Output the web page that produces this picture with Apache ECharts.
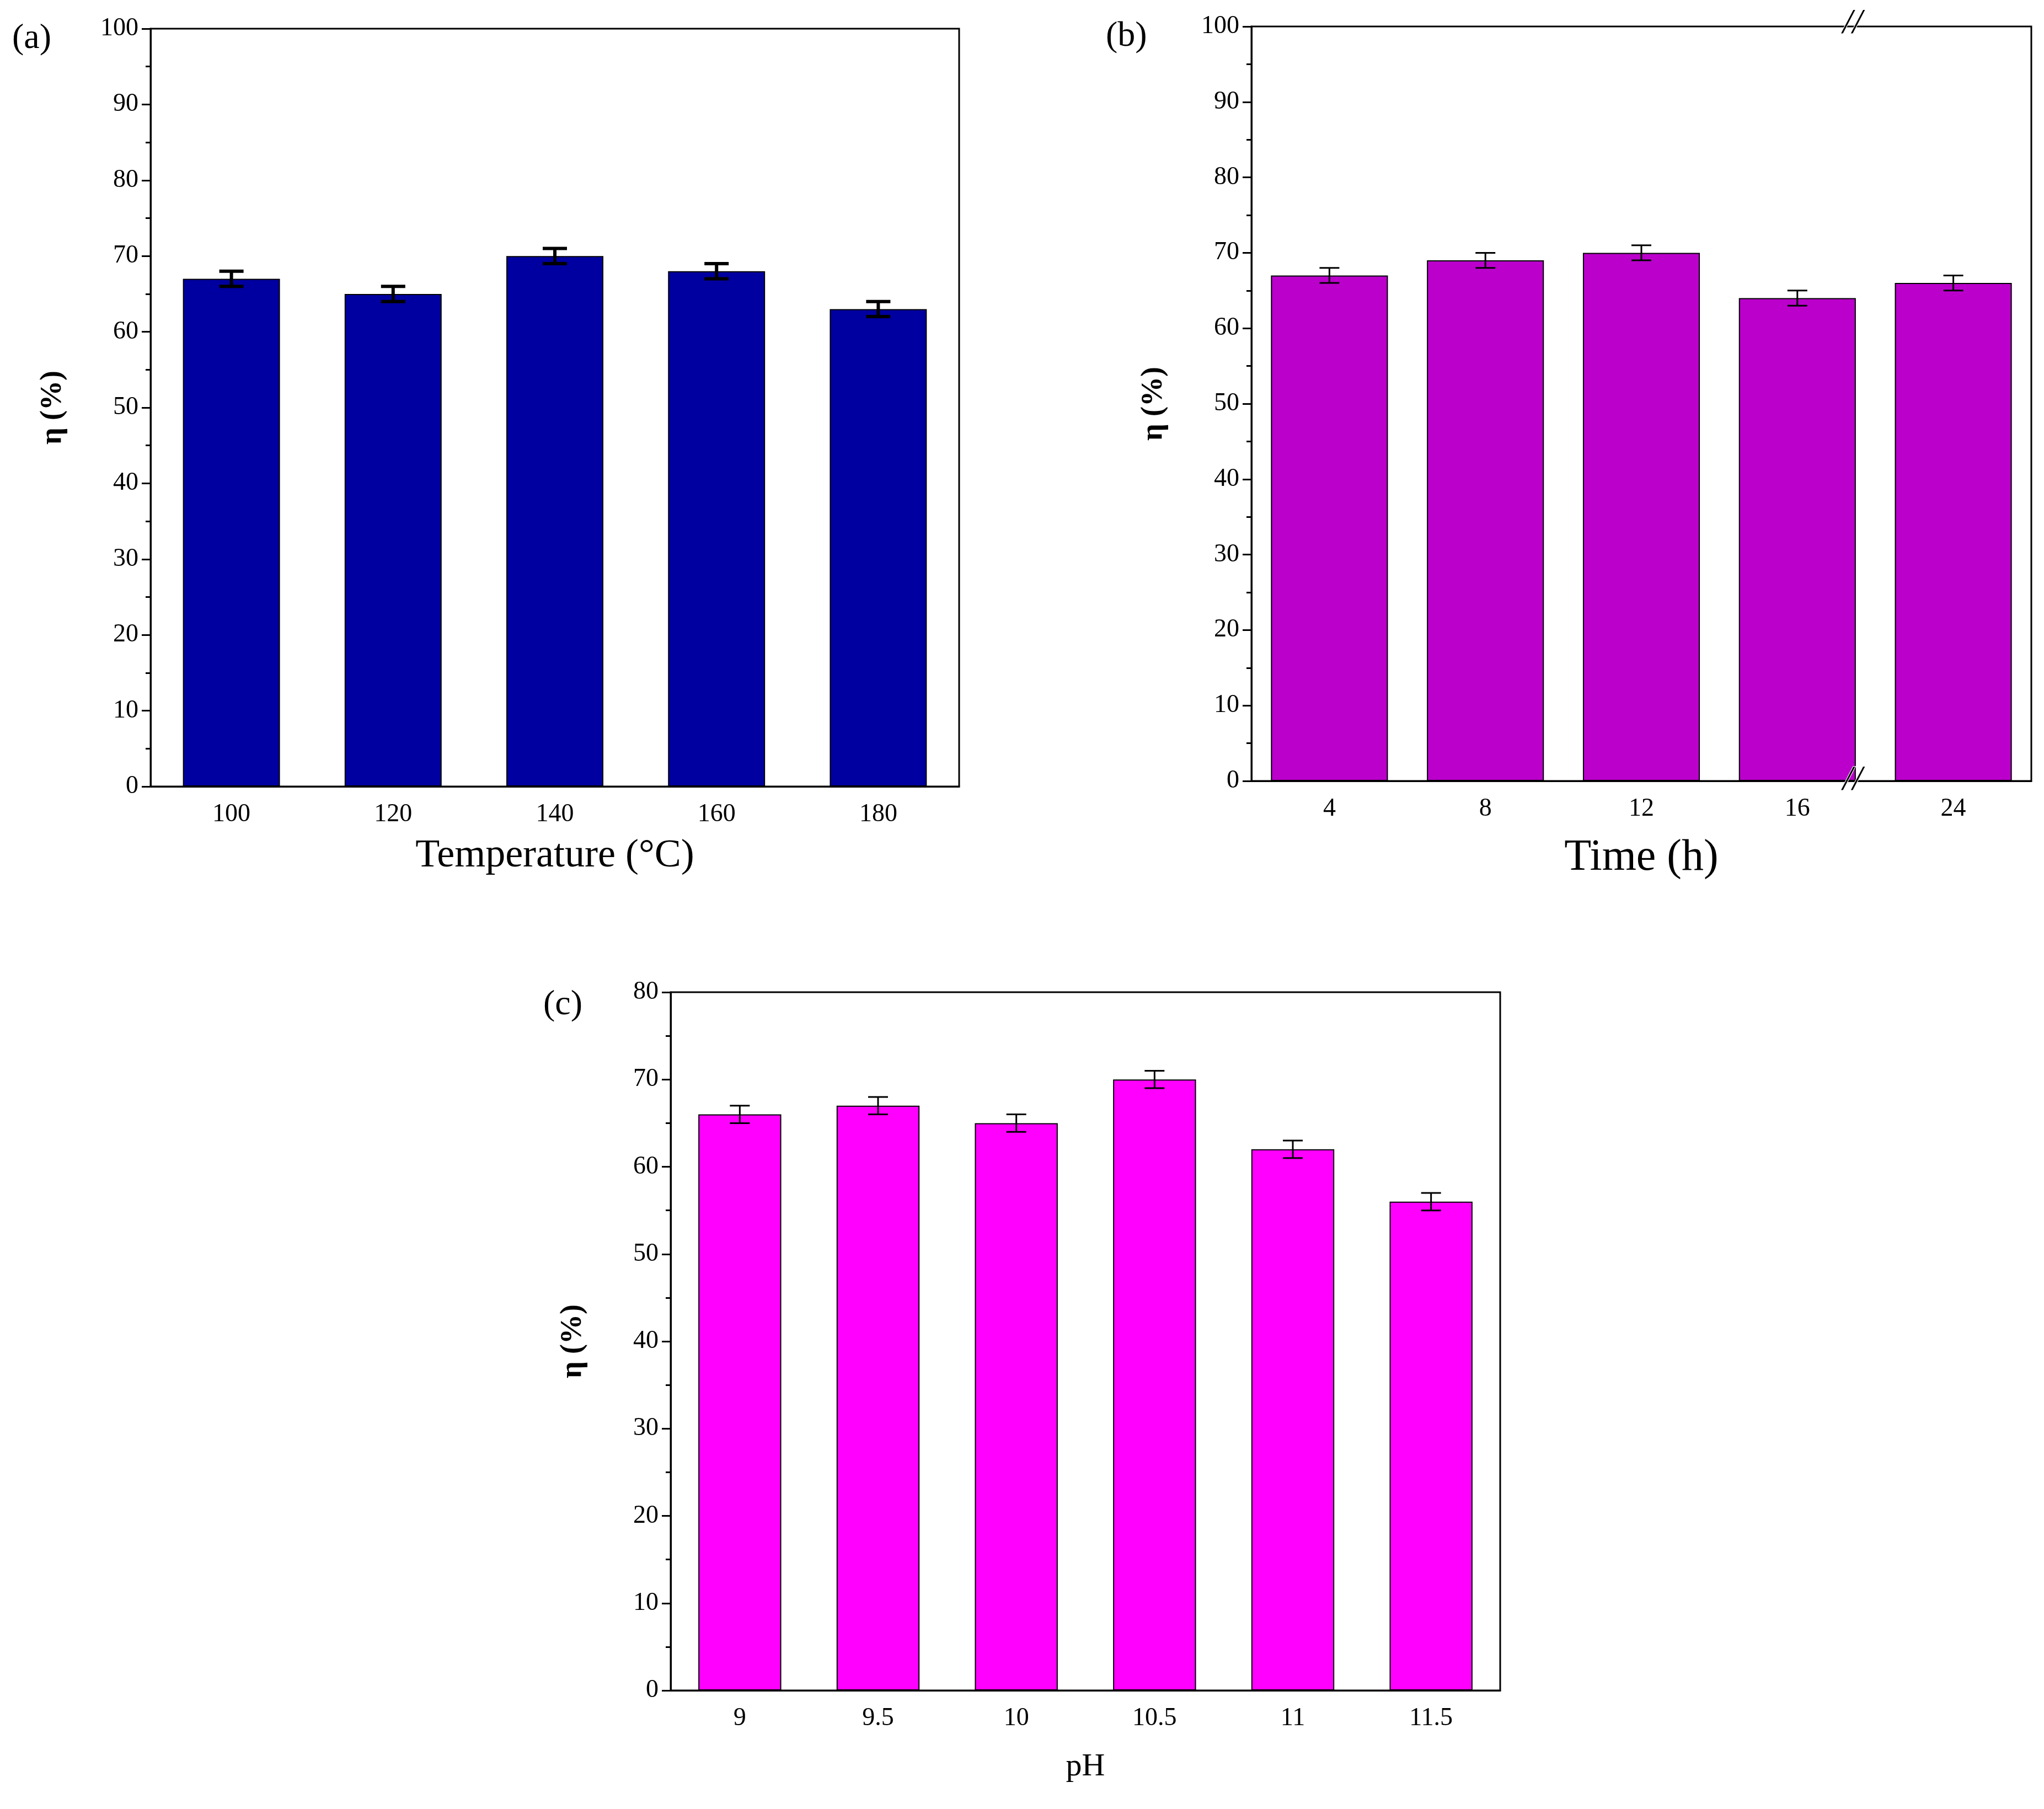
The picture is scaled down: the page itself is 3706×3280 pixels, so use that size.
<!DOCTYPE html>
<html>
<head>
<meta charset="utf-8">
<script src="https://cdn.jsdelivr.net/npm/echarts@6/dist/echarts.min.js"></script>
<style>html,body{margin:0;background:#fff}</style>
</head>
<body>
<div id="main" style="width:3706px;height:3280px"></div>
<script>
const tempCats = ['100', '120', '140', '160', '180'];
const tempVals = [67, 65, 70, 68, 63];
const tempErr = [1, 1, 1, 1, 1];
const timeCats = ['4', '8', '12', '16', '24'];
const timeVals = [67, 69, 70, 64, 66];
const timeErr = [1, 1, 1, 1, 1];
const phCats = ['9', '9.5', '10', '10.5', '11', '11.5'];
const phVals = [66, 67, 65, 70, 62, 56];
const phErr = [1, 1, 1, 1, 1, 1];

const font = 'Liberation Serif';
const chart = echarts.init(document.getElementById('main'));

function errBars(vals, errs, idx, width, cap) {
  return {
    type: 'custom', xAxisIndex: idx * 2, yAxisIndex: idx, z: 10,
    data: vals.map((v, i) => [i, v - errs[i], v + errs[i]]),
    renderItem(params, api) {
      const lo = api.coord([api.value(0), api.value(1)]);
      const hi = api.coord([api.value(0), api.value(2)]);
      const st = { stroke: '#000', lineWidth: width };
      return { type: 'group', children: [
        { type: 'line', shape: { x1: lo[0], y1: lo[1], x2: hi[0], y2: hi[1] }, style: st },
        { type: 'line', shape: { x1: lo[0] - cap, y1: lo[1], x2: lo[0] + cap, y2: lo[1] }, style: st },
        { type: 'line', shape: { x1: hi[0] - cap, y1: hi[1], x2: hi[0] + cap, y2: hi[1] }, style: st }
      ]};
    }
  };
}

const grids = [
  { left: 273, top: 52, width: 1466, height: 1374 },
  { left: 2269, top: 48, width: 1414, height: 1368 },
  { left: 1216, top: 1799, width: 1504, height: 1266 }
];
const cats = [tempCats, timeCats, phCats];
const names = ['Temperature (°C)', 'Time (h)', 'pH'];
const nameSizes = [72, 80, 58];
const nameGaps = [90, 100, 110];

const xAxis = [];
cats.forEach((c, i) => {
  xAxis.push({
    type: 'category', gridIndex: i, data: c, name: names[i], nameLocation: 'middle',
    nameGap: nameGaps[i], nameTextStyle: { fontFamily: font, fontSize: nameSizes[i], color: '#000' },
    axisLine: { lineStyle: { color: '#000', width: 3 } },
    axisTick: { alignWithLabel: true, length: 16, lineStyle: { color: '#000', width: 3 } },
    axisLabel: { fontFamily: font, fontSize: 46, color: '#000', margin: 28 },
    splitLine: { show: false }
  });
  xAxis.push({
    type: 'category', gridIndex: i, data: c, position: 'bottom',
    axisLine: { show: false }, axisLabel: { show: false },
    axisTick: { length: 10, lineStyle: { color: '#000', width: 3 } }
  });
});

const yMax = [100, 100, 80];
const yAxis = yMax.map((m, i) => ({
  type: 'value', gridIndex: i, min: 0, max: m, interval: 10,
  name: 'η (%)', nameLocation: 'middle', nameGap: 150,
  nameTextStyle: { fontFamily: font, fontSize: 54, fontWeight: 'bold', color: '#000' },
  axisLine: { show: true, lineStyle: { color: '#000', width: 3 } },
  axisTick: { show: true, length: 16, lineStyle: { color: '#000', width: 3 } },
  minorTick: { show: true, splitNumber: 2, length: 9, lineStyle: { color: '#000', width: 3 } },
  axisLabel: { fontFamily: font, fontSize: 46, color: '#000', margin: 22 },
  splitLine: { show: false }
}));

const barColors = ['#0000a0', '#bb00cc', '#ff00ff'];
const gaps = ['40%', '25%', '40%'];
const vals = [tempVals, timeVals, phVals];
const errs = [tempErr, timeErr, phErr];
const series = [];
vals.forEach((v, i) => {
  series.push({
    type: 'bar', xAxisIndex: i * 2, yAxisIndex: i, data: v, barCategoryGap: gaps[i],
    itemStyle: { color: barColors[i], borderColor: '#000', borderWidth: 2 }
  });
  series.push(errBars(v, errs[i], i, i === 0 ? 6 : 3, i === 0 ? 22 : 18));
});

const label = (t, x, y) => ({ type: 'text', left: x, top: y,
  style: { text: t, font: '64px "Liberation Serif"', fill: '#000' } });
const brk = (x, y) => ({ type: 'text', left: x, top: y, z: 20,
  style: { text: '//', font: 'italic 64px "Liberation Serif"', fill: '#000', stroke: '#fff', lineWidth: 2 } });

chart.setOption({
  backgroundColor: '#fff',
  grid: grids.map(g => Object.assign({ show: true, borderColor: '#000', borderWidth: 3, backgroundColor: 'transparent' }, g)),
  xAxis, yAxis, series,
  graphic: [
    label('(a)', 22, 38), label('(b)', 2005, 34), label('(c)', 985, 1790),
    brk(3340, 10), brk(3340, 1382)
  ]
});
</script>
</body>
</html>
